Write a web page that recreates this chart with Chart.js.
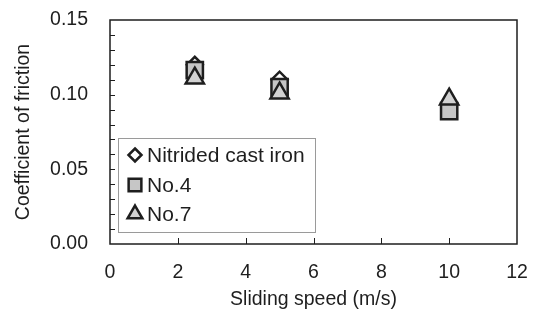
<!DOCTYPE html>
<html>
<head>
<meta charset="utf-8">
<script src="https://cdn.jsdelivr.net/npm/chart.js@4/dist/chart.umd.min.js"></script>
<style>
  html, body { margin: 0; padding: 0; background: #fff; }
  #chart { display: block; }
</style>
</head>
<body>
<canvas id="chart" width="538" height="322"></canvas>
<script>
// Datos
const seriesNames = ['Nitrided cast iron', 'No.4', 'No.7'];
const nitridedSpeeds = [2.5, 5];
const nitridedValues = [0.120, 0.110];
const no4Speeds = [2.5, 5, 10];
const no4Values = [0.1165, 0.105, 0.089];
const no7Speeds = [2.5, 5, 10];
const no7Values = [0.111, 0.101, 0.097];
const xTicks = [0, 2, 4, 6, 8, 10, 12];
const yTicks = [0, 0.05, 0.10, 0.15];

const FONT = 'Liberation Sans, Arial, sans-serif';
const INK = '#1e1e1e';
const AXIS_FONT = 19.5;

function toPoints(xs, ys) {
  return xs.map((x, i) => ({ x: x, y: ys[i] }));
}

// Dibuja un marcador simple (para la leyenda)
function drawMarker(ctx, style, x, y, r, fill) {
  ctx.beginPath();
  if (style === 'rectRot') {
    ctx.moveTo(x, y - r); ctx.lineTo(x + r, y); ctx.lineTo(x, y + r); ctx.lineTo(x - r, y);
  } else if (style === 'rect') {
    const s = r * Math.SQRT1_2;
    ctx.rect(x - s, y - s, 2 * s, 2 * s);
  } else {
    const h = r * Math.sqrt(3) / 2;
    ctx.moveTo(x, y - r); ctx.lineTo(x + h, y + r / 2); ctx.lineTo(x - h, y + r / 2);
  }
  ctx.closePath();
  ctx.fillStyle = fill;
  ctx.fill();
  ctx.lineWidth = 2.5;
  ctx.lineJoin = 'miter';
  ctx.strokeStyle = INK;
  ctx.stroke();
}

// Marco, marcas de eje hacia dentro y leyenda
const framePlugin = {
  id: 'frame',
  afterDraw(chart) {
    const { ctx, chartArea: a, scales } = chart;
    ctx.save();
    ctx.strokeStyle = INK;
    ctx.lineWidth = 1.5;
    ctx.strokeRect(a.left, a.top, a.right - a.left, a.bottom - a.top);
    ctx.lineWidth = 1;
    ctx.beginPath();
    for (let v = 1; v < 15; v++) {
      const py = Math.round(scales.y.getPixelForValue(v / 100)) + 0.5;
      ctx.moveTo(a.left, py); ctx.lineTo(a.left + 5, py);
    }
    for (let v = 2; v < 12; v += 2) {
      const px = Math.round(scales.x.getPixelForValue(v)) + 0.5;
      ctx.moveTo(px, a.bottom); ctx.lineTo(px, a.bottom - 6);
    }
    ctx.stroke();

    // Leyenda
    const lx = 118, ly = 138, lw = 197, lh = 94;
    ctx.fillStyle = '#fff';
    ctx.fillRect(lx, ly, lw, lh);
    ctx.strokeStyle = '#9a9a9a';
    ctx.lineWidth = 1;
    ctx.strokeRect(lx + 0.5, ly + 0.5, lw, lh);
    const rows = [155, 185, 214];
    chart.data.datasets.forEach((ds, i) => {
      const r = ds.pointStyle === 'rectRot' ? 6.5 : (ds.pointStyle === 'rect' ? 9 : 8.5);
      drawMarker(ctx, ds.pointStyle, 135, rows[i], r, ds.pointBackgroundColor);
      ctx.fillStyle = INK;
      ctx.font = '21px ' + FONT;
      ctx.textBaseline = 'middle';
      ctx.textAlign = 'left';
      ctx.fillText(ds.label, 147, rows[i] + 1);
    });
    ctx.restore();
  }
};

new Chart(document.getElementById('chart'), {
  type: 'scatter',
  data: {
    datasets: [
      {
        label: seriesNames[0],
        data: toPoints(nitridedSpeeds, nitridedValues),
        pointStyle: 'rectRot',
        pointRadius: 8,
        pointBackgroundColor: '#ffffff',
        pointBorderColor: INK,
        pointBorderWidth: 2.5,
        order: 3
      },
      {
        label: seriesNames[1],
        data: toPoints(no4Speeds, no4Values),
        pointStyle: 'rect',
        pointRadius: 11.5,
        pointBackgroundColor: '#c6c6c6',
        pointBorderColor: INK,
        pointBorderWidth: 2.5,
        order: 2
      },
      {
        label: seriesNames[2],
        data: toPoints(no7Speeds, no7Values),
        pointStyle: 'triangle',
        pointRadius: 10.5,
        pointBackgroundColor: '#d2d2d2',
        pointBorderColor: INK,
        pointBorderWidth: 2.5,
        order: 1
      }
    ]
  },
  options: {
    responsive: false,
    animation: false,
    layout: { padding: { top: 20, right: 21, left: 0, bottom: 0 } },
    plugins: {
      legend: { display: false },
      tooltip: { enabled: false }
    },
    scales: {
      x: {
        type: 'linear',
        min: xTicks[0],
        max: xTicks[xTicks.length - 1],
        afterBuildTicks: s => { s.ticks = xTicks.map(v => ({ value: v })); },
        afterFit: s => { s.height = 78; s.paddingLeft = 0; s.paddingRight = 0; },
        grid: { display: false, drawTicks: false },
        border: { display: false },
        ticks: { padding: 17, color: INK, font: { family: FONT, size: AXIS_FONT }, maxRotation: 0 },
        title: {
          display: true,
          text: 'Sliding speed (m/s)',
          color: INK,
          font: { family: FONT, size: AXIS_FONT },
          padding: { top: 0, bottom: 11 }
        }
      },
      y: {
        type: 'linear',
        min: yTicks[0],
        max: yTicks[yTicks.length - 1],
        afterBuildTicks: s => { s.ticks = yTicks.map(v => ({ value: v })); },
        afterFit: s => { s.width = 110; s.paddingTop = 0; s.paddingBottom = 0; },
        grid: { display: false, drawTicks: false },
        border: { display: false },
        ticks: {
          padding: 22,
          color: INK,
          font: { family: FONT, size: AXIS_FONT },
          callback: v => v.toFixed(2)
        },
        title: {
          display: true,
          text: 'Coefficient of friction',
          color: INK,
          font: { family: FONT, size: AXIS_FONT },
          padding: { top: 12, bottom: 0 }
        }
      }
    }
  },
  plugins: [framePlugin]
});
</script>
</body>
</html>
